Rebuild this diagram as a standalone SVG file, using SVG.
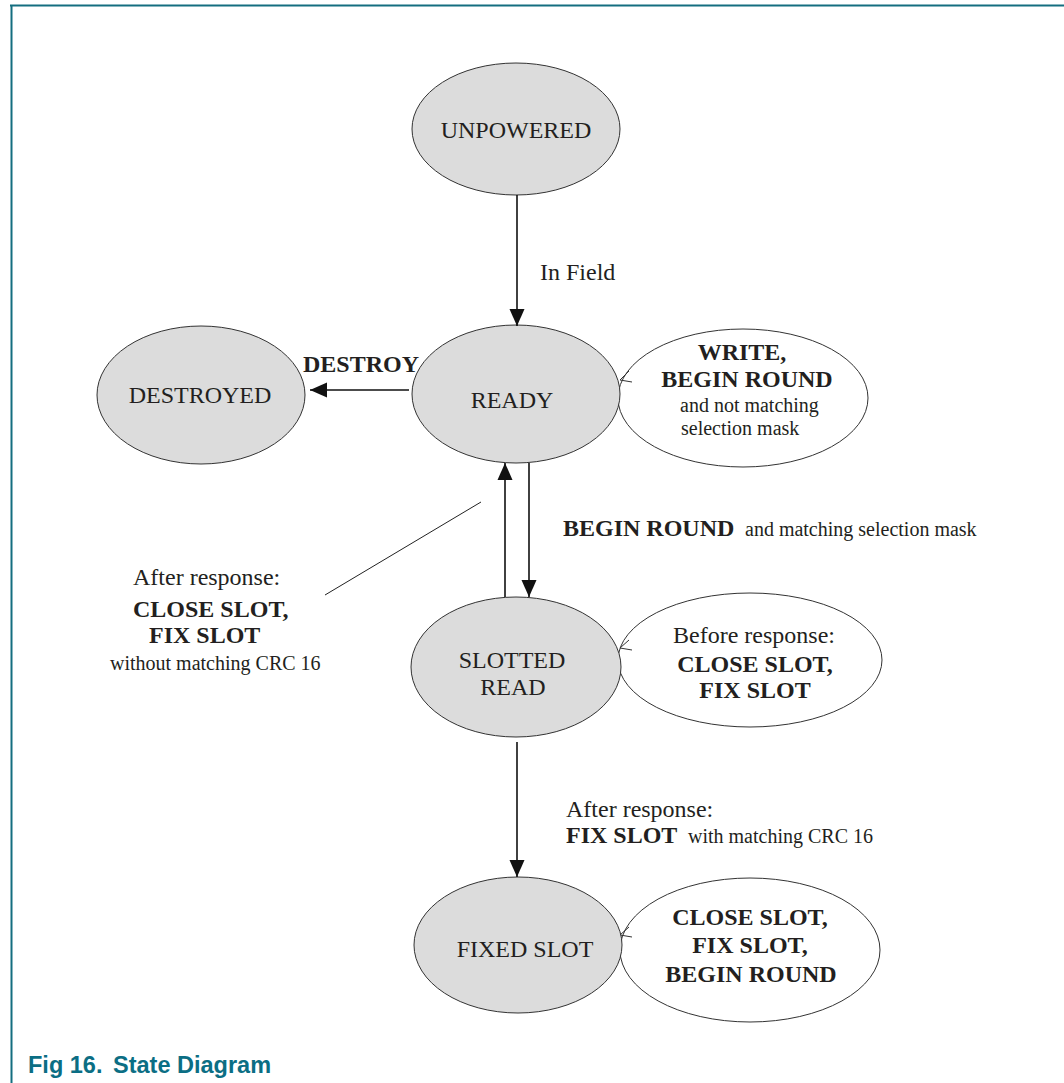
<svg xmlns="http://www.w3.org/2000/svg" width="1064" height="1083" viewBox="0 0 1064 1083">
<style>
.frame{stroke:#146e80;stroke-width:2;fill:none}
.state{fill:#dcdcdc;stroke:#333;stroke-width:1}
.loop{fill:#fff;stroke:#333;stroke-width:1}
.edge{stroke:#111;stroke-width:1.6;fill:none}
.thin{stroke:#222;stroke-width:1;fill:none}
.open{stroke:#333;stroke-width:1;fill:none}
text{font-family:"Liberation Serif","Times New Roman",serif;fill:#231f20}
.n{font-size:24px}
.b{font-size:24px;font-weight:bold}
.s{font-size:20px}
.c{text-anchor:middle}
.cap{font-family:"Liberation Sans",Arial,sans-serif;font-weight:bold;font-size:23.5px;fill:#0b6e84}
</style>
<defs>
<marker id="ah" markerUnits="userSpaceOnUse" markerWidth="18" markerHeight="16" viewBox="0 0 18 16" refX="17" refY="8" orient="auto">
<path d="M0,0.5 L17,8 L0,15.5 Z" fill="#111"/>
</marker>
</defs>
<rect width="1064" height="1083" fill="#fff"/>
<g id="frame">
<line class="frame" x1="10" y1="5.5" x2="1064" y2="5.5"/>
<line class="frame" x1="11.5" y1="5" x2="11.5" y2="1083"/>
</g>
<g id="loops">
<g id="loop-ready">
<ellipse class="loop" cx="743" cy="398" rx="125" ry="69"/>
<path class="open" d="M629,371 L620,380 L632,382"/>
<text class="b c" x="742" y="360">WRITE,</text>
<text class="b c" x="747" y="387">BEGIN ROUND</text>
<text class="s" x="680" y="412">and not matching</text>
<text class="s" x="681" y="435">selection mask</text>
</g>
<g id="loop-slotted">
<ellipse class="loop" cx="750" cy="660" rx="132" ry="67"/>
<path class="open" d="M629,640 L620,648 L632,650"/>
<text class="n c" x="754" y="643">Before response:</text>
<text class="b c" x="755" y="672">CLOSE SLOT,</text>
<text class="b c" x="755" y="698">FIX SLOT</text>
</g>
<g id="loop-fixed">
<ellipse class="loop" cx="750" cy="950" rx="130" ry="72"/>
<path class="open" d="M629,927 L620,935 L632,937"/>
<text class="b c" x="750" y="925">CLOSE SLOT,</text>
<text class="b c" x="750" y="953">FIX SLOT,</text>
<text class="b c" x="751" y="982">BEGIN ROUND</text>
</g>
</g>
<g id="unpowered">
<ellipse class="state" cx="516" cy="129" rx="104" ry="66"/>
<text class="n c" x="516" y="138">UNPOWERED</text>
</g>
<g id="ready">
<ellipse class="state" cx="516" cy="394" rx="104" ry="69"/>
<text class="n c" x="512" y="408">READY</text>
</g>
<g id="destroyed">
<ellipse class="state" cx="201" cy="395" rx="104" ry="69"/>
<text class="n c" x="200" y="403">DESTROYED</text>
</g>
<g id="slotted-read">
<ellipse class="state" cx="516" cy="667" rx="105" ry="70"/>
<text class="n c" x="512" y="668">SLOTTED</text>
<text class="n c" x="513" y="695">READ</text>
</g>
<g id="fixed-slot">
<ellipse class="state" cx="518" cy="945" rx="104" ry="68"/>
<text class="n c" x="525" y="957">FIXED SLOT</text>
</g>
<g id="connectors">
<line class="edge" x1="517" y1="195" x2="517" y2="326" marker-end="url(#ah)"/>
<line class="edge" x1="409" y1="390" x2="310" y2="390" marker-end="url(#ah)"/>
<line class="edge" x1="505" y1="597" x2="505" y2="463" marker-end="url(#ah)"/>
<line class="edge" x1="529" y1="463" x2="529" y2="597" marker-end="url(#ah)"/>
<line class="edge" x1="517" y1="742" x2="517" y2="877" marker-end="url(#ah)"/>
<line class="thin" x1="481" y1="502" x2="325" y2="595"/>
</g>
<g id="labels">
<text class="n" x="540" y="280">In Field</text>
<text class="b" x="303" y="372">DESTROY</text>
<text class="b" x="563" y="536">BEGIN ROUND</text>
<text class="s" x="745" y="536">and matching selection mask</text>
<text class="n" x="133" y="585">After response:</text>
<text class="b" x="133" y="617">CLOSE SLOT,</text>
<text class="b" x="149" y="643">FIX SLOT</text>
<text class="s" x="110" y="670">without matching CRC 16</text>
<text class="n" x="566" y="817">After response:</text>
<text class="b" x="566" y="843">FIX SLOT</text>
<text class="s" x="688" y="843">with matching CRC 16</text>
</g>
<g id="caption">
<text class="cap" x="28" y="1073">Fig 16.<tspan x="113">State Diagram</tspan></text>
</g>
</svg>
